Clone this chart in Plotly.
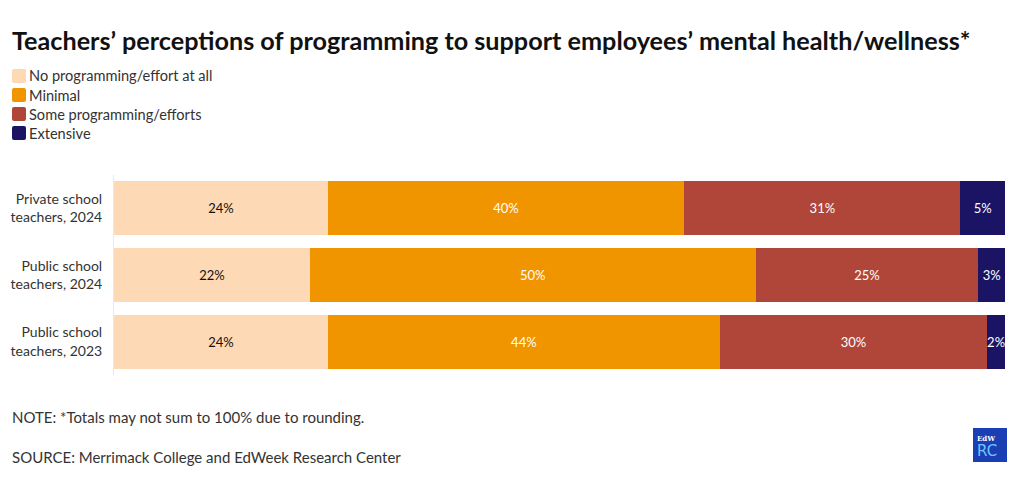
import plotly.graph_objects as go

categories = ["Private school<br>teachers, 2024", "Public school<br>teachers, 2024", "Public school<br>teachers, 2023"]
series_names = ["No programming/effort at all", "Minimal", "Some programming/efforts", "Extensive"]
no_programming = [24, 22, 24]
minimal = [40, 50, 44]
some_programming = [31, 25, 30]
extensive = [5, 3, 2]
colors = ["#fdd9b5", "#f09400", "#b0463a", "#1b1464"]
text_colors = ["#111111", "#ffffff", "#ffffff", "#ffffff"]

FONT = "Lato"
W, H = 1020, 477
L, R, T, B = 114, 15, 175, 102
PW, PH = W - L - R, H - T - B


def px(x):
    return (x - L) / PW


def py(y):
    return (H - B - y) / PH


fig = go.Figure()
for name, vals, c, tc in zip(series_names, [no_programming, minimal, some_programming, extensive], colors, text_colors):
    fig.add_trace(go.Bar(
        y=categories, x=vals, name=name, orientation="h",
        marker=dict(color=c, line=dict(width=0)),
        text=[f"{v}%" for v in vals], textposition="inside", insidetextanchor="middle",
        textangle=0, constraintext="none", cliponaxis=False,
        textfont=dict(color=tc, size=13, family=FONT),
        hoverinfo="skip", showlegend=False,
    ))

fig.update_layout(
    barmode="stack",
    width=W, height=H,
    margin=dict(l=L, r=R, t=T, b=B, autoexpand=False),
    paper_bgcolor="white", plot_bgcolor="white",
    font=dict(family=FONT, color="#333333", size=14),
    bargap=0.19,
    showlegend=False,
    xaxis=dict(range=[0, 100], visible=False, fixedrange=True),
    yaxis=dict(autorange="reversed", showline=True, linecolor="#e8e8e8", linewidth=1,
               ticks="", showgrid=False, tickfont=dict(size=14, color="#333333"), ticklabelstandoff=8),
)

# title
fig.add_annotation(text="<b>Teachers’ perceptions of programming to support employees’ mental health/wellness*</b>",
                   xref="paper", yref="paper", x=px(10), y=py(40), xanchor="left", yanchor="middle",
                   showarrow=False, font=dict(size=25.2, color="#111111", family=FONT))

# legend (manual)
for i, (name, c) in enumerate(zip(series_names, colors)):
    yc = 76 + 19 * i
    x0, x1, y0, y1 = 12, 26, yc - 7, yc + 7
    r = 2
    path = (f"M {px(x0 + r)} {py(y0)} L {px(x1 - r)} {py(y0)} Q {px(x1)} {py(y0)} {px(x1)} {py(y0 + r)} "
            f"L {px(x1)} {py(y1 - r)} Q {px(x1)} {py(y1)} {px(x1 - r)} {py(y1)} "
            f"L {px(x0 + r)} {py(y1)} Q {px(x0)} {py(y1)} {px(x0)} {py(y1 - r)} "
            f"L {px(x0)} {py(y0 + r)} Q {px(x0)} {py(y0)} {px(x0 + r)} {py(y0)} Z")
    fig.add_shape(type="path", xref="paper", yref="paper", path=path, fillcolor=c, line=dict(width=0))
    fig.add_annotation(text=name, xref="paper", yref="paper", x=px(27), y=py(yc), xanchor="left",
                       yanchor="middle", showarrow=False, font=dict(size=14.6, color="#333333"))

fig.add_annotation(text="NOTE: *Totals may not sum to 100% due to rounding.", xref="paper", yref="paper",
                   x=px(10), y=py(417), xanchor="left", yanchor="middle", showarrow=False,
                   font=dict(size=15, color="#333333"))
fig.add_annotation(text="SOURCE: Merrimack College and EdWeek Research Center", xref="paper", yref="paper",
                   x=px(10), y=py(457), xanchor="left", yanchor="middle", showarrow=False,
                   font=dict(size=15, color="#333333"))

# logo
fig.add_shape(type="rect", xref="paper", yref="paper", x0=px(973), x1=px(1007),
              y0=py(462), y1=py(428), fillcolor="#1a3fb5", line=dict(width=0), layer="above")
fig.add_annotation(text="<b>EdW</b>", xref="paper", yref="paper", x=px(975), y=py(438),
                   xanchor="left", yanchor="middle", showarrow=False, font=dict(size=7, color="white", family="DejaVu Serif"))
fig.add_annotation(text="RC", xref="paper", yref="paper", x=px(975), y=py(451),
                   xanchor="left", yanchor="middle", showarrow=False, font=dict(size=15, color="#6fc3ff", family="DejaVu Sans"))

fig.write_html("out.html", post_script="document.body.style.margin='0';",
               config={"displayModeBar": False})
